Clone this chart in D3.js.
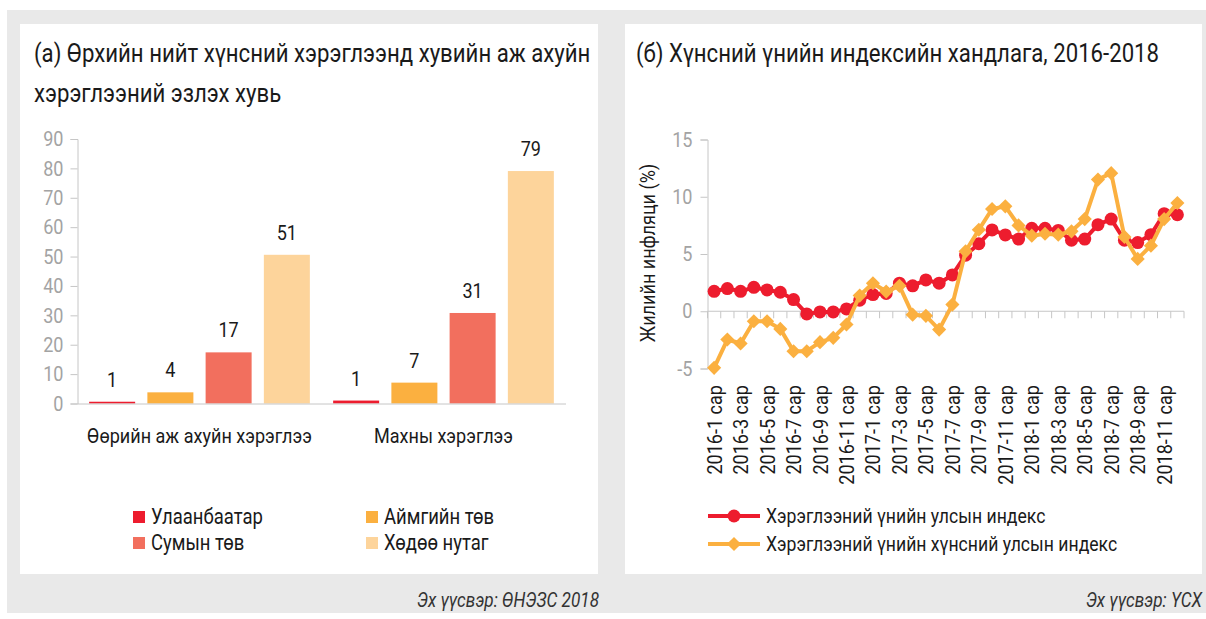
<!DOCTYPE html>
<html>
<head>
<meta charset="utf-8">
<script src="https://cdn.jsdelivr.net/npm/d3@7"></script>
<style>
  html, body { margin: 0; padding: 0; background: #ffffff; }
  svg { display: block; }
  text { font-family: Roboto, "Noto Sans", sans-serif; }
</style>
</head>
<body>
<svg id="chart" width="1206" height="619"></svg>
<script>
// ---------- Data ----------
const barCategories = ["Өөрийн аж ахуйн хэрэглээ", "Махны хэрэглээ"];
const barSeriesNames = ["Улаанбаатар", "Аймгийн төв", "Сумын төв", "Хөдөө нутаг"];
const ulaanbaatarValues = [0.6, 1.0];
const aimagValues = [3.8, 7.1];
const sumValues = [17.4, 30.8];
const khodooValues = [50.6, 79.1];
const barTicks = [0, 10, 20, 30, 40, 50, 60, 70, 80, 90];

const months = [
  "2016-1 сар","2016-2 сар","2016-3 сар","2016-4 сар","2016-5 сар","2016-6 сар",
  "2016-7 сар","2016-8 сар","2016-9 сар","2016-10 сар","2016-11 сар","2016-12 сар",
  "2017-1 сар","2017-2 сар","2017-3 сар","2017-4 сар","2017-5 сар","2017-6 сар",
  "2017-7 сар","2017-8 сар","2017-9 сар","2017-10 сар","2017-11 сар","2017-12 сар",
  "2018-1 сар","2018-2 сар","2018-3 сар","2018-4 сар","2018-5 сар","2018-6 сар",
  "2018-7 сар","2018-8 сар","2018-9 сар","2018-10 сар","2018-11 сар","2018-12 сар"
];
const monthTickLabels = [
  "2016-1 сар","2016-3 сар","2016-5 сар","2016-7 сар","2016-9 сар","2016-11 сар",
  "2017-1 сар","2017-3 сар","2017-5 сар","2017-7 сар","2017-9 сар","2017-11 сар",
  "2018-1 сар","2018-3 сар","2018-5 сар","2018-7 сар","2018-9 сар","2018-11 сар"
];
const cpiValues = [1.74,1.98,1.74,2.09,1.86,1.66,1.02,-0.23,-0.06,-0.06,0.2,0.96,
  1.46,1.55,2.45,2.22,2.74,2.45,3.17,4.9,5.9,7.1,6.67,6.3,
  7.25,7.25,7.06,6.2,6.3,7.56,8.05,6.2,6.0,6.69,8.52,8.43];
const foodCpiValues = [-4.94,-2.47,-2.82,-0.87,-0.87,-1.54,-3.49,-3.49,-2.7,-2.32,-1.16,1.37,
  2.45,1.72,2.22,-0.3,-0.4,-1.6,0.58,5.23,7.12,8.93,9.16,7.5,
  6.6,6.77,6.69,6.98,8.05,11.5,12.06,6.49,4.57,5.73,8.05,9.45];
const lineTicks = [-5, 0, 5, 10, 15];
const lineSeriesNames = ["Хэрэглээний үнийн улсын индекс", "Хэрэглээний үнийн хүнсний улсын индекс"];

// ---------- Styles ----------
const SX = 0.86; // horizontal squeeze to imitate a condensed face
const barColors = ["#ED1C2E", "#FBB040", "#F26F5E", "#FDD49B"];
const lineColors = ["#ED1C2E", "#FBB040"];
const axisColor = "#c6c6c6";
const tickTextColor = "#a3a3a3";
const textColor = "#1a1a1a";

const svg = d3.select("#chart");

function addText(parent, x, y, str, size, opts = {}) {
  const rot = opts.rotate ? ` rotate(${opts.rotate})` : "";
  const t = parent.append("text")
    .attr("transform", `translate(${x},${y})${rot} scale(${SX},1)`)
    .attr("font-size", size)
    .attr("fill", opts.fill || textColor)
    .attr("text-anchor", opts.anchor || "start")
    .text(str);
  if (opts.italic) t.attr("font-style", "italic");
  return t;
}
function squeezeTicks(g, size, fill) {
  g.selectAll(".tick text").each(function () {
    const s = d3.select(this);
    const x0 = +s.attr("x") || 0;
    s.attr("x", x0 / SX).attr("transform", `scale(${SX},1)`)
      .attr("font-size", size).attr("fill", fill)
      .style("font-family", "Roboto, 'Noto Sans', sans-serif");
  });
}

// backgrounds
svg.append("rect").attr("x", 7).attr("y", 10).attr("width", 1199).attr("height", 603).attr("fill", "#e9e9e9");
svg.append("rect").attr("x", 20).attr("y", 24).attr("width", 578).attr("height", 550).attr("fill", "#ffffff");
svg.append("rect").attr("x", 625).attr("y", 24).attr("width", 577).attr("height", 550).attr("fill", "#ffffff");

// titles
addText(svg, 34, 62, "(а) Өрхийн нийт хүнсний хэрэглээнд хувийн аж ахуйн", 25.8);
addText(svg, 34, 102, "хэрэглээний эзлэх хувь", 25.8);
addText(svg, 636, 62, "(б) Хүнсний үнийн индексийн хандлага, 2016-2018", 25.8);

// sources
addText(svg, 599, 607, "Эх үүсвэр: ӨНЭЗС 2018", 20, { anchor: "end", italic: true, fill: "#333" });
addText(svg, 1202, 607, "Эх үүсвэр: ҮСХ", 20, { anchor: "end", italic: true, fill: "#333" });

// ---------- Left: grouped bars ----------
const barData = barCategories.map((c, i) => ({
  category: c,
  values: [ulaanbaatarValues[i], aimagValues[i], sumValues[i], khodooValues[i]]
}));
const xBar = d3.scaleBand().domain(barCategories).range([77.5, 565.5]);
const xSub = d3.scaleBand().domain(barSeriesNames).range([0, xBar.bandwidth()]).paddingInner(0.21).paddingOuter(0.2);
const yBar = d3.scaleLinear().domain([0, 90]).range([403.5, 139]);

const gBarY = svg.append("g").attr("transform", "translate(77.5,0)")
  .call(d3.axisLeft(yBar).tickValues(barTicks).tickSize(7).tickPadding(7));
gBarY.select(".domain").attr("stroke", axisColor);
gBarY.selectAll(".tick line").attr("stroke", axisColor);
squeezeTicks(gBarY, 21, tickTextColor);

const groups = svg.append("g").selectAll("g").data(barData).join("g")
  .attr("transform", d => `translate(${xBar(d.category)},0)`);
groups.selectAll("rect").data(d => d.values.map((v, j) => ({ v, s: barSeriesNames[j], j })))
  .join("rect")
  .attr("x", d => xSub(d.s)).attr("width", xSub.bandwidth())
  .attr("y", d => yBar(d.v)).attr("height", d => yBar(0) - yBar(d.v))
  .attr("fill", d => barColors[d.j]);
groups.each(function (d) {
  const g = d3.select(this);
  d.values.forEach((v, j) => {
    addText(g, xSub(barSeriesNames[j]) + xSub.bandwidth() / 2, yBar(v) - 15, Math.round(v), 21, { anchor: "middle" });
  });
});

// x axis line + category labels
const gBarX = svg.append("g").attr("transform", `translate(0,${yBar(0)})`)
  .call(d3.axisBottom(xBar).tickSize(0).tickPadding(25));
gBarX.select(".domain").attr("stroke", axisColor);
squeezeTicks(gBarX, 21, textColor);

// left legend
const legL = svg.append("g");
const legPos = [[133, 517], [366, 517], [133, 543], [366, 543]];
barSeriesNames.forEach((n, i) => {
  const [lx, ly] = legPos[i];
  legL.append("rect").attr("x", lx).attr("y", ly - 6).attr("width", 12).attr("height", 12).attr("fill", barColors[i]);
  addText(legL, lx + 18, ly + 7, n, 21.5);
});

// ---------- Right: lines ----------
const xLine = d3.scaleBand().domain(months).range([707.5, 1184]);
const yLine = d3.scaleLinear().domain([-5, 15]).range([368.5, 139.5]);

const gLineY = svg.append("g").attr("transform", "translate(707.5,0)")
  .call(d3.axisLeft(yLine).tickValues(lineTicks).tickSize(7).tickPadding(8)
    .tickFormat(d => d < 0 ? "-" + Math.abs(d) : String(d)));
gLineY.select(".domain").attr("stroke", axisColor);
gLineY.selectAll(".tick line").attr("stroke", axisColor);
squeezeTicks(gLineY, 21, tickTextColor);

// x axis at zero with boundary ticks
const xAxisG = svg.append("g");
xAxisG.append("line").attr("x1", xLine.range()[0]).attr("x2", xLine.range()[1])
  .attr("y1", yLine(0)).attr("y2", yLine(0)).attr("stroke", axisColor);
const boundaries = months.map(m => xLine(m)).concat([xLine.range()[1]]);
xAxisG.selectAll("line.tk").data(boundaries).join("line").attr("class", "tk")
  .attr("x1", d => d).attr("x2", d => d).attr("y1", yLine(0)).attr("y2", yLine(0) + 7)
  .attr("stroke", axisColor);

// x tick labels (rotated, low position)
const xLab = svg.append("g");
monthTickLabels.forEach(d => {
  addText(xLab, xLine(d) + xLine.bandwidth() / 2 + 7.5, 385, d, 21, { anchor: "end", rotate: -90 });
});

// y title
addText(svg, 655, 253, "Жилийн инфляци (%)", 21, { anchor: "middle", rotate: -90 });

const lineGen = d3.line().x(d => xLine(d.m) + xLine.bandwidth() / 2).y(d => yLine(d.v));
const cpiData = months.map((m, i) => ({ m, v: cpiValues[i] }));
const foodData = months.map((m, i) => ({ m, v: foodCpiValues[i] }));

svg.append("path").datum(cpiData).attr("d", lineGen).attr("fill", "none")
  .attr("stroke", lineColors[0]).attr("stroke-width", 4).attr("stroke-linejoin", "round");
svg.append("g").selectAll("circle").data(cpiData).join("circle")
  .attr("cx", d => xLine(d.m) + xLine.bandwidth() / 2).attr("cy", d => yLine(d.v))
  .attr("r", 6.5).attr("fill", lineColors[0]);

svg.append("path").datum(foodData).attr("d", lineGen).attr("fill", "none")
  .attr("stroke", lineColors[1]).attr("stroke-width", 4).attr("stroke-linejoin", "round");
const diamond = d3.symbol().type(d3.symbolSquare).size(100);
svg.append("g").selectAll("path").data(foodData).join("path")
  .attr("d", diamond)
  .attr("transform", d => `translate(${xLine(d.m) + xLine.bandwidth() / 2},${yLine(d.v)}) rotate(45)`)
  .attr("fill", lineColors[1]);

// right legend
const legR = svg.append("g");
[[516, 0], [544, 1]].forEach(([ly, i]) => {
  legR.append("line").attr("x1", 708).attr("x2", 760).attr("y1", ly).attr("y2", ly)
    .attr("stroke", lineColors[i]).attr("stroke-width", 4);
  if (i === 0) {
    legR.append("circle").attr("cx", 734).attr("cy", ly).attr("r", 6.5).attr("fill", lineColors[0]);
  } else {
    legR.append("path").attr("d", diamond).attr("transform", `translate(734,${ly}) rotate(45)`).attr("fill", lineColors[1]);
  }
  addText(legR, 766, ly + 7, lineSeriesNames[i], 20.5);
});
</script>
</body>
</html>
